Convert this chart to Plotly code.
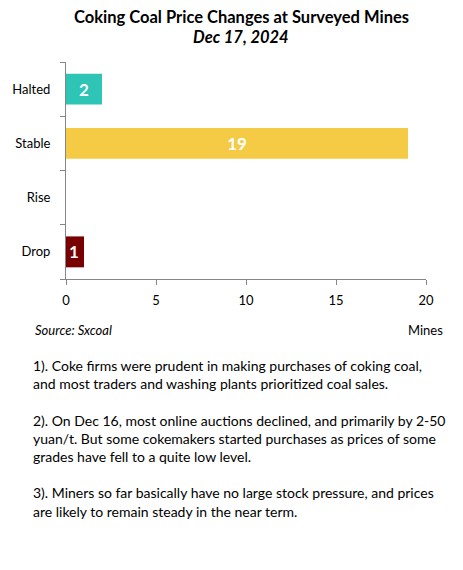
import plotly.graph_objects as go

categories = ['Drop', 'Rise', 'Stable', 'Halted']
mines = [1, 0, 19, 2]
bar_colors = ['#780000', '#780000', '#F5CB45', '#2EC4B6']
x_ticks = [0, 5, 10, 15, 20]

notes = [
    "1). Coke firms were prudent in making purchases of coking coal,<br>"
    "and most traders and washing plants prioritized coal sales.",
    "2). On Dec 16, most online auctions declined, and primarily by 2-50<br>"
    "yuan/t. But some cokemakers started purchases as prices of some<br>"
    "grades have fell to a quite low level.",
    "3). Miners so far basically have no large stock pressure, and prices<br>"
    "are likely to remain steady in the near term.",
]

FONT = 'Lato'
AXIS_COLOR = '#868686'

fig = go.Figure()
# one trace per bar so the small "Drop" label can sit at the bar start
for cat, val, col in zip(categories, mines, bar_colors):
    fig.add_trace(go.Bar(
        y=[cat], x=[val], orientation='h',
        marker=dict(color=col, line_width=0),
        width=0.57,
        text=[str(val) if val else ''],
        textposition='inside',
        insidetextanchor='start' if val < 2 else 'middle',
        constraintext='none',
        textfont=dict(family=FONT, size=17, color='white', weight='bold'),
        hoverinfo='skip',
    ))

fig.update_layout(
    width=463, height=570,
    margin=dict(l=58, r=45, t=54, b=299),
    plot_bgcolor='white', paper_bgcolor='white',
    showlegend=False, barmode='overlay',
    font=dict(family=FONT, size=13, color='black'),
)

fig.update_xaxes(
    range=[0, 20], tickvals=x_ticks,
    showgrid=False, zeroline=False, automargin=False,
    showline=True, linecolor=AXIS_COLOR, linewidth=1,
    ticks='outside', ticklen=5, tickcolor=AXIS_COLOR,
    ticklabelstandoff=4,
    tickfont=dict(size=13),
)
fig.update_yaxes(
    categoryorder='array', categoryarray=categories,
    range=[-0.5, 3.5],
    showgrid=False, zeroline=False, automargin=False,
    showline=True, linecolor=AXIS_COLOR, linewidth=1,
    ticks='outside', ticklen=5, tickcolor=AXIS_COLOR,
    tickson='boundaries', ticklabelstandoff=12,
    tickfont=dict(size=13),
)

# titles
fig.add_annotation(
    text='<b>Coking Coal Price Changes at Surveyed Mines</b>',
    xref='paper', yref='paper', x=0.5, y=1, yshift=45, xshift=-5,
    showarrow=False, font=dict(size=16.5), xanchor='center', yanchor='middle',
)
fig.add_annotation(
    text='<b><i>Dec 17, 2024</i></b>',
    xref='paper', yref='paper', x=0.5, y=1, yshift=25, xshift=-5,
    showarrow=False, font=dict(size=16.5), xanchor='center', yanchor='middle',
)

# source and axis unit
fig.add_annotation(
    text='<i>Source: Sxcoal</i>', xref='paper', yref='paper',
    x=0, xshift=-33, y=0, yshift=-51, showarrow=False,
    xanchor='left', yanchor='middle', font=dict(size=13),
)
fig.add_annotation(
    text='Mines', xref='paper', yref='paper',
    x=1, xshift=19, y=0, yshift=-51, showarrow=False,
    xanchor='right', yanchor='middle', font=dict(size=13),
)

# notes below chart
fig.add_annotation(
    text='<br><br>'.join(notes), xref='paper', yref='paper',
    x=0, xshift=-35, y=0, yshift=-76, showarrow=False,
    xanchor='left', yanchor='top', align='left',
    font=dict(size=14),
)

fig.write_html("out.html")
